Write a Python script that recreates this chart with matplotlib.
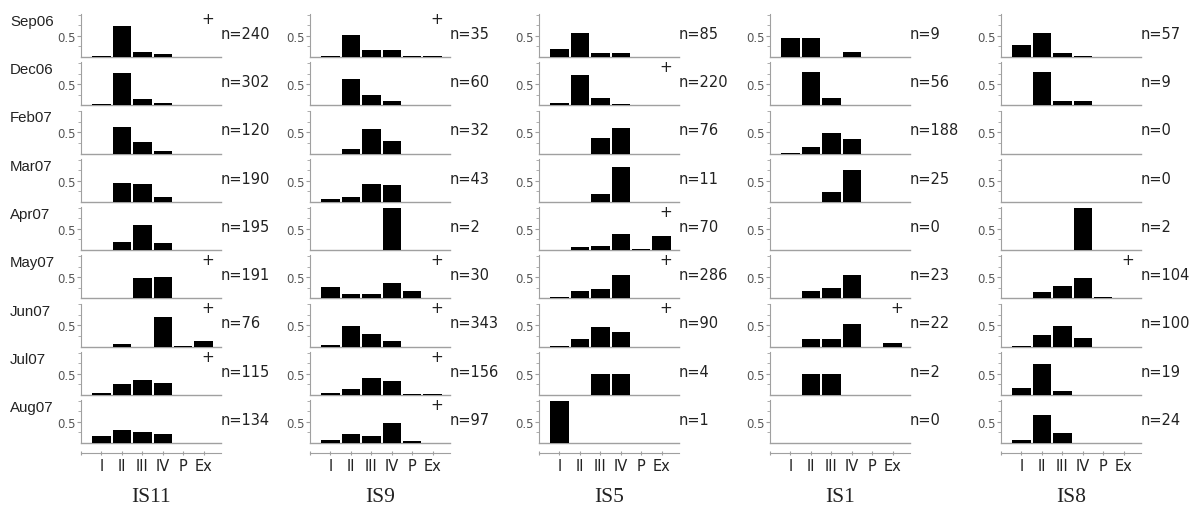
import matplotlib.pyplot as plt
import matplotlib.transforms as mtransforms
import numpy as np

stages = ['I', 'II', 'III', 'IV', 'P', 'Ex']
months = ['Sep06', 'Dec06', 'Feb07', 'Mar07', 'Apr07', 'May07', 'Jun07', 'Jul07', 'Aug07']
sites = ['IS11', 'IS9', 'IS5', 'IS1', 'IS8']

# proportion in each stage, one row per month
is11 = [[0.03, 0.73, 0.12, 0.07, 0, 0],
        [0.02, 0.77, 0.15, 0.05, 0, 0],
        [0, 0.63, 0.28, 0.05, 0, 0],
        [0, 0.44, 0.43, 0.12, 0, 0],
        [0, 0.20, 0.60, 0.17, 0, 0],
        [0, 0, 0.49, 0.50, 0, 0],
        [0, 0.06, 0, 0.71, 0.01, 0.13],
        [0.03, 0.26, 0.36, 0.28, 0, 0],
        [0.17, 0.32, 0.25, 0.21, 0, 0]]
is9 = [[0.02, 0.52, 0.16, 0.16, 0.03, 0.03],
       [0, 0.62, 0.25, 0.10, 0, 0],
       [0, 0.11, 0.57, 0.30, 0, 0],
       [0.06, 0.11, 0.42, 0.40, 0, 0],
       [0, 0, 0, 1.0, 0, 0],
       [0.26, 0.10, 0.10, 0.36, 0.17, 0],
       [0.04, 0.49, 0.30, 0.12, 0, 0],
       [0.03, 0.13, 0.40, 0.32, 0.02, 0.02],
       [0.06, 0.22, 0.17, 0.48, 0.04, 0]]
is5 = [[0.18, 0.56, 0.09, 0.10, 0, 0],
       [0.06, 0.71, 0.17, 0.02, 0, 0],
       [0, 0, 0.37, 0.60, 0, 0],
       [0, 0, 0.18, 0.82, 0, 0],
       [0.01, 0.08, 0.10, 0.37, 0.03, 0.33],
       [0.02, 0.17, 0.21, 0.56, 0.01, 0],
       [0.02, 0.17, 0.46, 0.34, 0, 0],
       [0, 0, 0.50, 0.50, 0, 0],
       [1.0, 0, 0, 0, 0, 0]]
is1 = [[0.44, 0.44, 0, 0.11, 0, 0],
       [0, 0.80, 0.18, 0, 0, 0],
       [0.01, 0.16, 0.48, 0.34, 0, 0],
       [0, 0, 0.24, 0.76, 0, 0],
       [0, 0, 0, 0, 0, 0],
       [0, 0.17, 0.25, 0.56, 0, 0],
       [0, 0.18, 0.18, 0.545, 0, 0.09],
       [0, 0.50, 0.50, 0, 0, 0],
       [0, 0, 0, 0, 0, 0]]
is8 = [[0.29, 0.56, 0.10, 0.02, 0, 0],
       [0, 0.78, 0.11, 0.11, 0, 0],
       [0, 0, 0, 0, 0, 0],
       [0, 0, 0, 0, 0, 0],
       [0, 0, 0, 1.0, 0, 0],
       [0, 0.16, 0.30, 0.47, 0.02, 0],
       [0.01, 0.27, 0.48, 0.21, 0, 0],
       [0.15, 0.74, 0.10, 0, 0, 0],
       [0.06, 0.66, 0.24, 0, 0, 0]]

n_is11 = [240, 302, 120, 190, 195, 191, 76, 115, 134]
n_is9 = [35, 60, 32, 43, 2, 30, 343, 156, 97]
n_is5 = [85, 220, 76, 11, 70, 286, 90, 4, 1]
n_is1 = [9, 56, 188, 25, 0, 23, 22, 2, 0]
n_is8 = [57, 9, 0, 0, 2, 104, 100, 19, 24]

# months marked with a "+"
plus_is11 = [1, 0, 0, 0, 0, 1, 1, 1, 0]
plus_is9 = [1, 0, 0, 0, 0, 1, 1, 1, 1]
plus_is5 = [0, 1, 0, 0, 1, 1, 1, 0, 0]
plus_is1 = [0, 0, 0, 0, 0, 0, 1, 0, 0]
plus_is8 = [0, 0, 0, 0, 0, 1, 0, 0, 0]

shares = [is11, is9, is5, is1, is8]
counts = [n_is11, n_is9, n_is5, n_is1, n_is8]
marks = [plus_is11, plus_is9, plus_is5, plus_is1, plus_is8]

W, H = 1204, 506
col_left = [81, 310, 539, 770, 1001]
ax_w, ax_h = 140, 43
row_step = 48.25
grey = '#a0a0a0'

fig = plt.figure(figsize=(W / 100, H / 100), dpi=100)
x = np.arange(len(stages))

for c, site in enumerate(sites):
    for r, month in enumerate(months):
        base = 58 + r * row_step
        ax = fig.add_axes([col_left[c] / W, (H - base) / H, ax_w / W, ax_h / H])
        ax.bar(x, shares[c][r], width=0.9, color='black', zorder=3)
        ax.set_xlim(-1.0, 5.85)
        ax.set_ylim(0, 1.02)
        ax.axhline(0, color=grey, lw=1, clip_on=False, zorder=2)
        for s in ['top', 'right']:
            ax.spines[s].set_visible(False)
        ax.spines['left'].set_color(grey)
        ax.set_yticks([0.5])
        ax.set_yticks([0.25, 0.75, 1.0], minor=True)
        ax.tick_params(axis='y', which='major', length=3, width=0.8, color=grey,
                       labelsize=8.5, labelcolor='#555555', pad=1)
        ax.tick_params(axis='y', which='minor', length=2, width=0.6, color=grey)

        if r == len(months) - 1:
            ax.spines['bottom'].set_position(('outward', 7))
            ax.spines['bottom'].set_color(grey)
            ax.set_xticks(x)
            ax.set_xticklabels(stages)
            ax.set_xticks([-1], minor=True)
            ax.tick_params(axis='x', which='both', length=3, width=0.8, color=grey,
                           direction='inout', labelsize=10.5, labelcolor='#222222', pad=2)
            ax.text(0.5, -1.25, site, transform=ax.transAxes, ha='center', va='center',
                    family='Liberation Serif', fontsize=15.5, color='#222222')
        else:
            ax.spines['bottom'].set_visible(False)
            ax.set_xticks([])

        ax.text(1.0, 0.55, f'n={counts[c][r]}', transform=ax.transAxes,
                ha='left', va='center', fontsize=10.5, color='#222222')
        if marks[c][r]:
            trans = mtransforms.blended_transform_factory(ax.transData, ax.transAxes)
            ax.text(5.2, 0.9, '+', transform=trans, ha='center', va='center',
                    fontsize=11, color='#222222')

        if c == 0:
            fig.text(10 / W, 1 - (base - 36) / H, month, family='Liberation Sans',
                     fontsize=10.8, ha='left', va='center', color='#222222')

fig.savefig('out.png', dpi=100)
